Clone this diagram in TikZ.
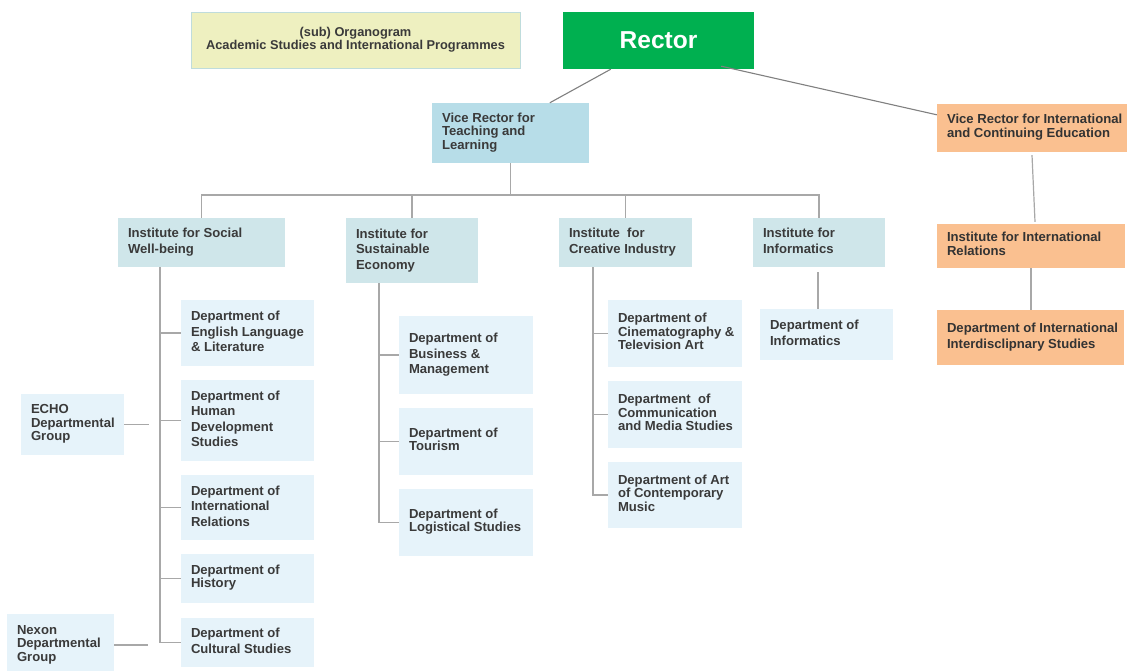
\documentclass[tikz,border=0pt]{standalone}
\usepackage{fontspec}
\setmainfont{Liberation Sans}
\definecolor{rgreen}{HTML}{00B050}
\definecolor{vrblue}{HTML}{B7DDE8}
\definecolor{inst}{HTML}{CFE6EA}
\definecolor{dept}{HTML}{E6F3FA}
\definecolor{orng}{HTML}{FAC090}
\definecolor{ttl}{HTML}{EEF0C0}
\definecolor{ttlb}{HTML}{BFDCDC}
\definecolor{txt}{HTML}{3A3A3A}
\definecolor{ln}{HTML}{A8A8A8}
\definecolor{lnd}{HTML}{808080}
\newcommand{\orgbox}[7]{%
 \pgfmathsetmacro{\orgw}{#4-#2}%
 \pgfmathsetmacro{\orgh}{#5-#3}%
 \pgfmathsetmacro{\orgtw}{#4-#2-20}%
 \node[#6, minimum width=\orgw pt, minimum height=\orgh pt] (#1) at ({(#2+#4)/2},{(#3+#5)/2})
   {\makebox[\orgtw pt][l]{\begin{tabular}{@{}l@{}}#7\end{tabular}}};}
\tikzset{
 box/.style={inner xsep=10pt, inner ysep=0pt, text=txt, anchor=center},
 lo/.style={font=\fontsize{13.1}{15.5}\selectfont\bfseries},
 ti/.style={font=\fontsize{13.1}{13.5}\selectfont\bfseries},
 deptbox/.style={box, fill=dept},
 instbox/.style={box, fill=inst},
 vrbox/.style={box, fill=vrblue},
 orbox/.style={box, fill=orng, text=black!80},
 conn/.style={draw=ln, line width=1.2pt},
 connd/.style={draw=lnd, line width=1.1pt},
}
\begin{document}
\begin{tikzpicture}[x=1pt,y=-1pt]
\useasboundingbox[fill=white] (0,0) rectangle (1127,671);

% title and rector
\node[fill=ttl, draw=ttlb, line width=0.8pt, minimum width=329pt, minimum height=56pt,
  align=center, text=txt, font=\fontsize{12.8}{13}\selectfont\bfseries, inner sep=0pt]
  (title) at (355.5,40) {(sub) Organogram\\Academic Studies and International Programmes};
\node[fill=rgreen, minimum width=191pt, minimum height=57pt, inner sep=0pt,
  text=white, font=\fontsize{24.5}{28}\selectfont\bfseries] (rector) at (658.5,40.5) {Rector};

% vice rectors
\orgbox{vrt}{432}{103}{589}{163}{vrbox,ti}{Vice Rector for\\Teaching and\\Learning}
\orgbox{vri}{937}{104}{1127}{152}{orbox,ti}{Vice Rector for International\\and Continuing Education}

% institutes
\orgbox{isw}{118}{218}{285}{267}{instbox,lo}{Institute for Social\\Well-being}
\orgbox{ise}{346}{218}{478}{283}{instbox,lo}{Institute for\\Sustainable\\Economy}
\orgbox{ici}{559}{218}{692}{267}{instbox,lo}{Institute\ \ for\\Creative Industry}
\orgbox{iinf}{753}{218}{885}{267}{instbox,lo}{Institute for\\Informatics}
\orgbox{iir}{937}{224}{1125}{268}{orbox,ti}{Institute for International\\Relations}

% departments
\orgbox{eng}{181}{300}{314}{366}{deptbox,lo}{Department of\\English Language\\\& Literature}
\orgbox{hum}{181}{380}{314}{461}{deptbox,lo}{Department of\\Human\\Development\\Studies}
\orgbox{intr}{181}{475}{314}{540}{deptbox,lo}{Department of\\International\\Relations}
\orgbox{hist}{181}{554}{314}{603}{deptbox,ti}{Department of\\History}
\orgbox{cult}{181}{618}{314}{667}{deptbox,lo}{Department of\\Cultural Studies}
\orgbox{echo}{21}{394}{124}{455}{deptbox,ti}{ECHO\\Departmental\\Group}
\orgbox{nexon}{7}{614}{114}{676}{deptbox,ti}{Nexon\\Departmental\\Group}

\orgbox{busm}{399}{316}{533}{394}{deptbox,lo}{Department of\\Business \&\\Management}
\orgbox{tour}{399}{408}{533}{475}{deptbox,ti}{Department of\\Tourism}
\orgbox{logi}{399}{489}{533}{556}{deptbox,ti}{Department of\\Logistical Studies}

\orgbox{cine}{608}{300}{742}{367}{deptbox,ti}{Department of\\Cinematography \&\\Television Art}
\orgbox{comm}{608}{381}{742}{448}{deptbox,ti}{Department\ \ of\\Communication\\and Media Studies}
\orgbox{music}{608}{462}{742}{528}{deptbox,ti}{Department of Art\\of Contemporary\\Music}

\orgbox{dinf}{760}{309}{893}{360}{deptbox,lo}{Department of\\Informatics}
\orgbox{ddi}{937}{310}{1124}{365}{orbox,lo}{Department of International\\Interdisclipnary Studies}

% rector connectors
\draw[connd] ([xshift=48pt]rector.south west) -- ([xshift=118pt]vrt.north west);
\draw[connd] ([xshift=-33pt,yshift=3pt]rector.south east) -- ([yshift=-11pt]vri.north west);

% teaching tree bus
\coordinate (bus) at (0,195);
\draw[conn] (vrt.south) -- (vrt.south |- bus);
\draw[conn] (isw.north) |- (iinf.north |- bus) -- (iinf.north);
\draw[conn] (ise.north) -- (ise.north |- bus);
\draw[conn] (ici.north) -- (ici.north |- bus);

% trunks
\coordinate (t1) at (160,267);
\draw[conn] (t1) |- (cult.west);
\foreach \d in {eng,hum,intr,hist} \draw[conn] (\d.west) -- (\d.west -| t1);
\coordinate (e1) at (149,424.5);
\draw[conn] (echo.east) -- (e1);
\coordinate (n1) at (148,645);
\draw[conn] (nexon.east) -- (n1);

\coordinate (t2) at (379,283);
\draw[conn] (t2) |- (logi.west);
\foreach \d in {busm,tour} \draw[conn] (\d.west) -- (\d.west -| t2);

\coordinate (t3) at (593,267);
\draw[conn] (t3) |- (music.west);
\foreach \d in {cine,comm} \draw[conn] (\d.west) -- (\d.west -| t3);

\coordinate (i1) at (818,272);
\draw[conn] (i1) -- (i1 |- dinf.north);

% international tree
\draw[conn] ([yshift=-3pt]vri.south) -- ([xshift=4pt,yshift=2pt]iir.north);
\draw[conn] (iir.south) -- (iir.south |- ddi.north);
\end{tikzpicture}
\end{document}
